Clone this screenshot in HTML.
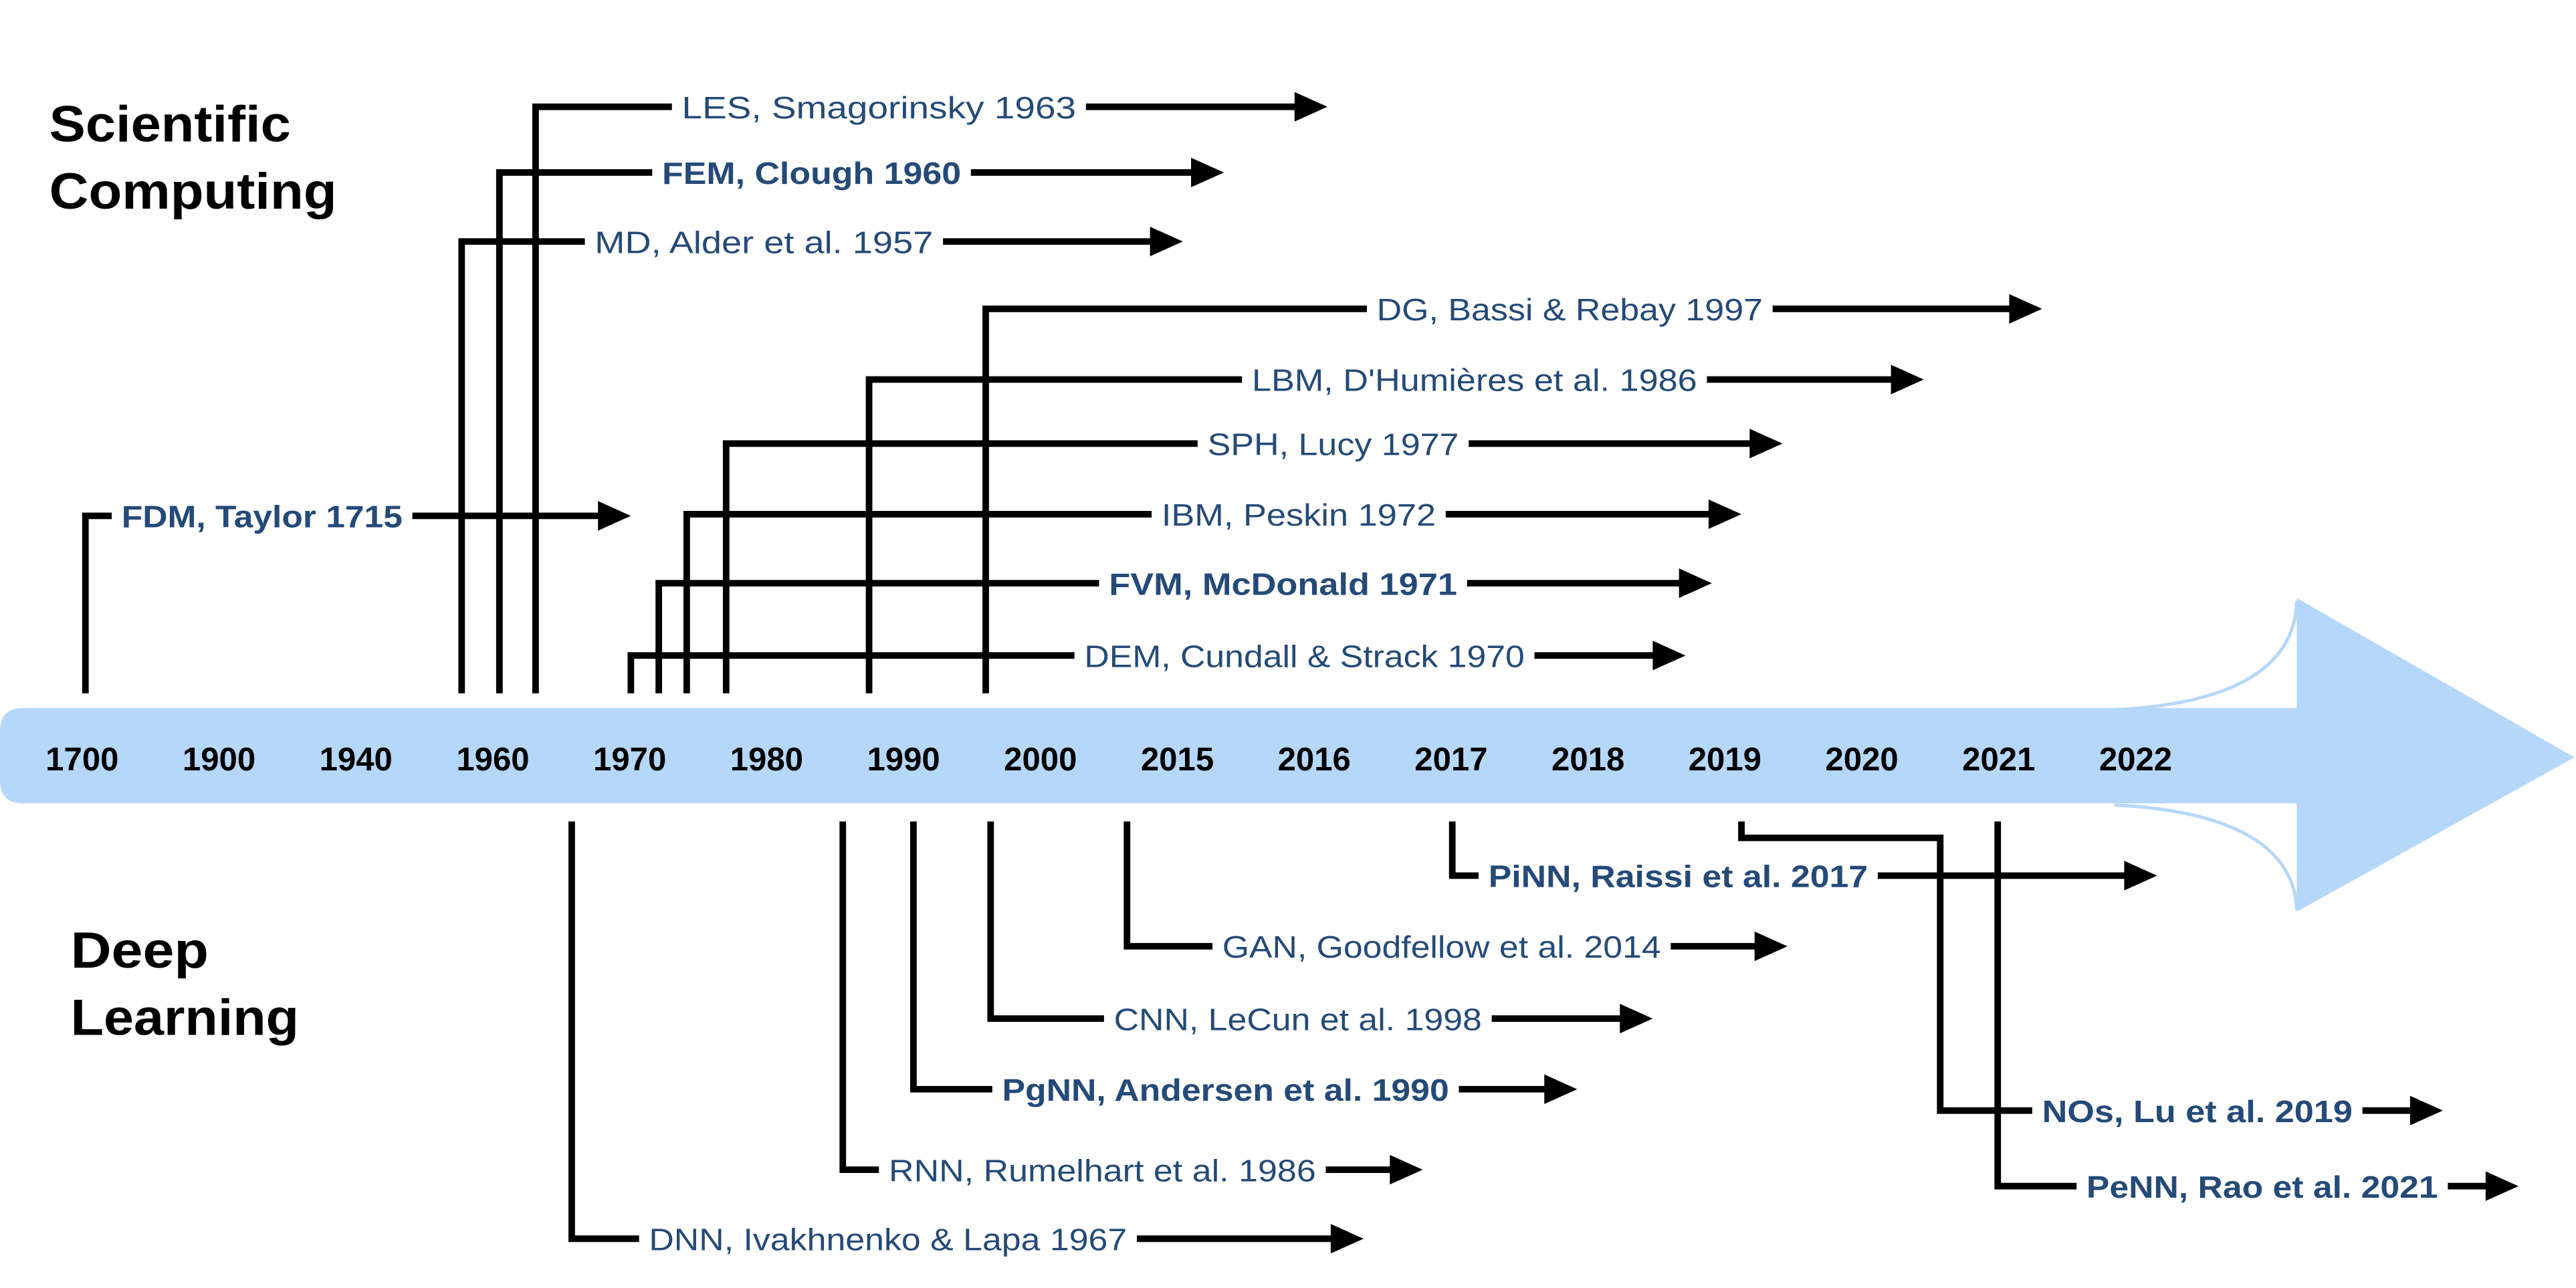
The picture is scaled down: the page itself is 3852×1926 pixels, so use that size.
<!DOCTYPE html>
<html><head><meta charset="utf-8"><style>
html,body{margin:0;padding:0;background:#fff;}
svg{display:block;}
text{font-family:"Liberation Sans",Arial,sans-serif;}
</style></head><body>
<svg id="chart" width="3852" height="1926" viewBox="0 0 1568 784" xmlns="http://www.w3.org/2000/svg">
<g>
<path d="M14,431 L1398,431 L1398,364 L1567,461 L1398,555 L1398,489 L14,489 Q0,489 0,475 L0,445 Q0,431 14,431 Z" fill="#b5d7f9"/>
<path d="M1287,432 C1370,428 1397,400 1398,366" fill="none" stroke="#b5d7f9" stroke-width="2"/>
<path d="M1287,490 C1370,494 1397,522 1398,554" fill="none" stroke="#b5d7f9" stroke-width="2"/>
</g>
<text x="30" y="86" font-size="31" font-weight="bold" textLength="147" lengthAdjust="spacingAndGlyphs">Scientific</text>
<text x="30" y="127" font-size="31" font-weight="bold" textLength="175" lengthAdjust="spacingAndGlyphs">Computing</text>
<text x="43" y="589" font-size="31" font-weight="bold" textLength="84" lengthAdjust="spacingAndGlyphs">Deep</text>
<text x="43" y="630" font-size="31" font-weight="bold" textLength="139" lengthAdjust="spacingAndGlyphs">Learning</text>
<g id="years"></g>
<g id="events"></g>
</svg>
<script>
const yearLabels=["1700","1900","1940","1960","1970","1980","1990","2000","2015","2016","2017","2018","2019","2020","2021","2022"];
const eventLabels=["FDM, Taylor 1715","MD, Alder et al. 1957","FEM, Clough 1960","LES, Smagorinsky 1963","DEM, Cundall & Strack 1970","FVM, McDonald 1971","IBM, Peskin 1972","SPH, Lucy 1977","LBM, D'Humières et al. 1986","DG, Bassi & Rebay 1997",
"DNN, Ivakhnenko & Lapa 1967","RNN, Rumelhart et al. 1986","PgNN, Andersen et al. 1990","CNN, LeCun et al. 1998","GAN, Goodfellow et al. 2014","PiNN, Raissi et al. 2017","NOs, Lu et al. 2019","PeNN, Rao et al. 2021"];
const eventBold=[1,0,1,0,0,1,0,0,0,0, 0,0,1,0,0,1,1,1];
const eventSide=["up","up","up","up","up","up","up","up","up","up","down","down","down","down","down","down","down","down"];
const stemX=[52,281,304,326,384,401,418,442,529,600, 348,513,556,603,686,884,1181,1216];
const rowY=[314,147,105,65,399,355,313,270,231,188, 754,712,663,620,576,533,676,722];
const labelStart=[74,362,403,415,660,675,707,735,762,838, 395,541,610,678,744,906,1243,1270];
const labelEnd=[245,568,585,655,928,887,874,888,1033,1073, 686,801,882,902,1011,1137,1432,1484];
const arrowTip=[384,720,745,808,1026,1042,1060,1085,1171,1243, 830,866,960,1006,1088,1313,1487,1533];
const yearX0=50, yearStep=83.33, bandY=461, stemTop=422, stemBottom=500, SW=4;
const NS="http://www.w3.org/2000/svg";
function mk(tag,attrs,parent){const e=document.createElementNS(NS,tag);for(const k in attrs)e.setAttribute(k,attrs[k]);parent.appendChild(e);return e;}
const yg=document.getElementById('years');
yearLabels.forEach((y,i)=>{const t=mk('text',{x:yearX0+i*yearStep,y:bandY+8,'font-size':20,'font-weight':'bold','text-anchor':'middle'},yg);


t.textContent=y;});
const eg=document.getElementById('events');
eventLabels.forEach((lab,i)=>{
const g=mk('g',{},eg);


const y=rowY[i],x=stemX[i];
let d;
if(i===16){d=`M1060,${stemBottom} L1060,510 L${x},510 L${x},${y} L${labelStart[i]-6},${y}`;}
else if(eventSide[i]==="up"){d=`M${x},${stemTop} L${x},${y} L${labelStart[i]-6},${y}`;}
else{d=`M${x},${stemBottom} L${x},${y} L${labelStart[i]-6},${y}`;}
const p=mk('path',{d:d,fill:'none',stroke:'#000','stroke-width':SW,'stroke-linejoin':'miter'},g);


const l=mk('path',{d:`M${labelEnd[i]+6},${y} L${arrowTip[i]-18},${y}`,stroke:'#000','stroke-width':SW},g);


const h=mk('path',{d:`M${arrowTip[i]-20},${y-9} L${arrowTip[i]},${y} L${arrowTip[i]-20},${y+9} Z`,fill:'#000'},g);


const t=mk('text',{x:labelStart[i],y:y+7,'font-size':19,fill:'#244a78','font-weight':eventBold[i]?'bold':'normal',textLength:labelEnd[i]-labelStart[i],lengthAdjust:'spacingAndGlyphs'},g);


t.textContent=lab;
});
</script>
</body></html>
